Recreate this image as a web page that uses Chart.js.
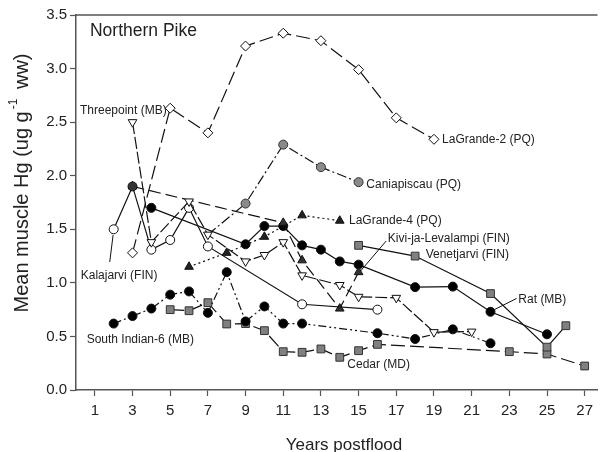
<!DOCTYPE html>
<html>
<head>
<meta charset="utf-8">
<script src="https://cdn.jsdelivr.net/npm/chart.js@4.4.0/dist/chart.umd.min.js"></script>
<style>
  html, body { margin: 0; padding: 0; background: #fff; }
  #wrap { width: 604px; height: 452px; position: relative; }
</style>
</head>
<body>
<div id="wrap"><canvas id="pikeChart"></canvas></div>
<script>
// axis ticks
const xTicks = [1, 3, 5, 7, 9, 11, 13, 15, 17, 19, 21, 23, 25, 27];
const yTicks = [0, 0.5, 1.0, 1.5, 2.0, 2.5, 3.0, 3.5];

// years postflood / mean muscle Hg, one pair per reservoir
const lagrande2Years = [3, 5, 7, 9, 11, 13, 15, 17, 19];
const lagrande2Hg = [1.28, 2.63, 2.40, 3.21, 3.33, 3.26, 2.99, 2.54, 2.34];

const caniapiscauYears = [7, 9, 11, 13, 15];
const caniapiscauHg = [1.45, 1.74, 2.29, 2.08, 1.94];

const lagrande4Years = [6, 8, 10, 12, 14];
const lagrande4Hg = [1.15, 1.28, 1.43, 1.63, 1.58];

const kiviYears = [3, 11, 12, 14, 15];
const kiviHg = [1.90, 1.56, 1.21, 0.76, 1.10];

const kalajarviYears = [2, 3, 4, 5, 6, 7, 12, 16];
const kalajarviHg = [1.50, 1.90, 1.31, 1.40, 1.70, 1.34, 0.80, 0.75];

const threepointYears = [3, 4, 6, 7, 9, 10, 11, 12, 14, 15, 17, 19, 21];
const threepointHg = [2.50, 1.38, 1.76, 1.45, 1.20, 1.26, 1.38, 1.07, 0.98, 0.87, 0.86, 0.54, 0.545];

const ratYears = [4, 9, 10, 11, 12, 13, 14, 15, 18, 20, 22, 25];
const ratHg = [1.70, 1.36, 1.53, 1.53, 1.35, 1.31, 1.20, 1.17, 0.96, 0.965, 0.73, 0.52];

const southIndianYears = [2, 3, 4, 5, 6, 7, 8, 9, 10, 11, 12, 16, 18, 20, 22];
const southIndianHg = [0.62, 0.69, 0.76, 0.89, 0.92, 0.72, 1.10, 0.64, 0.78, 0.62, 0.62, 0.53, 0.476, 0.566, 0.436];

const cedarYears = [5, 6, 7, 8, 9, 10, 11, 12, 13, 14, 15, 16, 23, 25, 27];
const cedarHg = [0.75, 0.74, 0.815, 0.616, 0.62, 0.554, 0.358, 0.352, 0.383, 0.305, 0.367, 0.426, 0.358, 0.336, 0.224];

const venetjarviYears = [15, 18, 22, 25, 26];
const venetjarviHg = [1.35, 1.25, 0.90, 0.40, 0.60];

// text labels inside the plot (data units)
const plotLabels = [
    { text: 'Northern Pike', x: 0.74, y: 3.345, size: 17.5 },
    { text: 'Threepoint (MB)', x: 0.21, y: 2.61, size: 12 },
    { text: 'LaGrande-2 (PQ)', x: 19.43, y: 2.334, size: 12 },
    { text: 'Caniapiscau (PQ)', x: 15.41, y: 1.92, size: 12 },
    { text: 'LaGrande-4 (PQ)', x: 14.49, y: 1.578, size: 12 },
    { text: 'Kivi-ja-Levalampi (FIN)', x: 16.55, y: 1.416, size: 12 },
    { text: 'Venetjarvi (FIN)', x: 18.56, y: 1.26, size: 12 },
    { text: 'Rat (MB)', x: 23.48, y: 0.847, size: 12 },
    { text: 'Cedar (MD)', x: 14.40, y: 0.233, size: 12 },
    { text: 'South Indian-6 (MB)', x: 0.565, y: 0.473, size: 12 },
    { text: 'Kalajarvi (FIN)', x: 0.25, y: 1.064, size: 12 }
];
// leader lines from labels to points [x1, y1, x2, y2]
const leaders = [
    [1.79, 1.195, 1.97, 1.447],
    [16.46, 1.39, 15.10, 1.11],
    [23.38, 0.854, 22.17, 0.747]
];

const pts = (xs, ys) => xs.map((x, i) => ({ x: x, y: ys[i] }));
const FONT = "'Liberation Sans', Arial, sans-serif";
const AXIS = '#555';

const extras = {
    id: 'extras',
    afterDatasetsDraw(chart) {
        const { ctx, chartArea, scales } = chart;
        const sx = scales.x, sy = scales.y;
        ctx.save();
        // top frame line
        ctx.strokeStyle = AXIS;
        ctx.lineWidth = 1.5;
        ctx.beginPath();
        ctx.moveTo(chartArea.left, chartArea.top);
        ctx.lineTo(chartArea.right, chartArea.top);
        ctx.stroke();

        ctx.strokeStyle = '#111';
        ctx.lineWidth = 1;
        leaders.forEach(l => {
            ctx.beginPath();
            ctx.moveTo(sx.getPixelForValue(l[0]), sy.getPixelForValue(l[1]));
            ctx.lineTo(sx.getPixelForValue(l[2]), sy.getPixelForValue(l[3]));
            ctx.stroke();
        });

        ctx.fillStyle = '#222';
        ctx.textAlign = 'left';
        ctx.textBaseline = 'middle';
        plotLabels.forEach(lb => {
            ctx.font = lb.size + 'px ' + FONT;
            ctx.fillText(lb.text, sx.getPixelForValue(lb.x), sy.getPixelForValue(lb.y));
        });

        // x axis title
        ctx.font = '17px ' + FONT;
        ctx.textAlign = 'center';
        ctx.fillText('Years postflood', 344, 445);

        // y axis title with superscript
        ctx.translate(22, 183);
        ctx.rotate(-Math.PI / 2);
        const p1 = 'Mean muscle Hg (ug g', sup = '-1', p3 = ' ww)';
        ctx.font = '20px ' + FONT;
        const w1 = ctx.measureText(p1).width, w3 = ctx.measureText(p3).width;
        ctx.font = '12px ' + FONT;
        const ws = ctx.measureText(sup).width + 6;
        let x0 = -(w1 + ws + w3) / 2;
        ctx.textAlign = 'left';
        ctx.font = '20px ' + FONT;
        ctx.fillText(p1, x0, 0);
        ctx.font = '12px ' + FONT;
        ctx.fillText(sup, x0 + w1 + 2, -8);
        ctx.font = '20px ' + FONT;
        ctx.fillText(p3, x0 + w1 + ws, 0);
        ctx.restore();
    }
};

const line = (label, xs, ys, opts) => Object.assign({
    label: label,
    data: pts(xs, ys),
    showLine: true,
    borderColor: '#111',
    borderWidth: 1.2,
    pointBorderColor: '#111',
    pointBorderWidth: 1,
    pointRadius: 4.5
}, opts);

const ctx = document.getElementById('pikeChart').getContext('2d');
new Chart(ctx, {
    type: 'scatter',
    data: {
        datasets: [
            line('LaGrande-2 (PQ)', lagrande2Years, lagrande2Hg, { borderDash: [14, 5], pointStyle: 'rectRot', pointRadius: 5, pointBackgroundColor: '#fff' }),
            line('Threepoint (MB)', threepointYears, threepointHg, { borderDash: [12, 3], pointStyle: 'triangle', pointRotation: 180, pointRadius: 5, pointBackgroundColor: '#fff' }),
            line('Kalajarvi (FIN)', kalajarviYears, kalajarviHg, { pointBackgroundColor: ['#fff', '#333', '#fff', '#fff', '#fff', '#fff', '#fff', '#fff'] }),
            line('Caniapiscau (PQ)', caniapiscauYears, caniapiscauHg, { borderDash: [10, 3, 2, 3], pointRadius: [0, 4.5, 4.5, 4.5, 4.5], pointBackgroundColor: '#8a8a8a', pointBorderColor: '#333' }),
            line('LaGrande-4 (PQ)', lagrande4Years, lagrande4Hg, { borderDash: [2, 3], pointStyle: 'triangle', pointRadius: 5, pointBackgroundColor: '#222' }),
            line('Kivi-ja-Levalampi (FIN)', kiviYears, kiviHg, { borderDash: [12, 5], pointStyle: 'triangle', pointRadius: 5, pointBackgroundColor: '#333' }),
            line('Rat (MB)', ratYears, ratHg, { pointBackgroundColor: '#000' }),
            line('South Indian-6 (MB)', southIndianYears, southIndianHg, { borderDash: [8, 3, 2, 3, 2, 3], pointBackgroundColor: '#000' }),
            line('Venetjarvi (FIN)', venetjarviYears, venetjarviHg, { pointStyle: 'rect', pointRadius: 5.5, pointBackgroundColor: '#808080', pointBorderColor: '#333' }),
            line('Cedar (MD)', cedarYears, cedarHg, { borderDash: [14, 5], pointStyle: 'rect', pointRadius: 5.5, pointBackgroundColor: '#808080', pointBorderColor: '#333' })
        ]
    },
    options: {
        responsive: true,
        maintainAspectRatio: false,
        animation: false,
        layout: { padding: { top: 15, right: 0, left: 0, bottom: 0 } },
        plugins: { legend: { display: false }, tooltip: { enabled: false } },
        scales: {
            x: {
                type: 'linear',
                min: 0,
                max: 27.68,
                afterBuildTicks: s => { s.ticks = xTicks.map(v => ({ value: v })); },
                afterFit: s => { s.height = 62; },
                grid: { drawOnChartArea: false, tickLength: 6, tickColor: AXIS, tickWidth: 1.2 },
                border: { color: AXIS, width: 1.5 },
                ticks: { color: '#222', padding: 6, font: { family: FONT, size: 15 } }
            },
            y: {
                min: 0,
                max: 3.5,
                afterBuildTicks: s => { s.ticks = yTicks.map(v => ({ value: v })); },
                afterFit: s => { s.width = 76; },
                grid: { drawOnChartArea: false, tickLength: 6, tickColor: AXIS, tickWidth: 1.2 },
                border: { color: AXIS, width: 1.5 },
                ticks: { color: '#222', padding: 3, font: { family: FONT, size: 15 }, callback: v => v.toFixed(1) }
            }
        }
    },
    plugins: [extras]
});
</script>
</body>
</html>
